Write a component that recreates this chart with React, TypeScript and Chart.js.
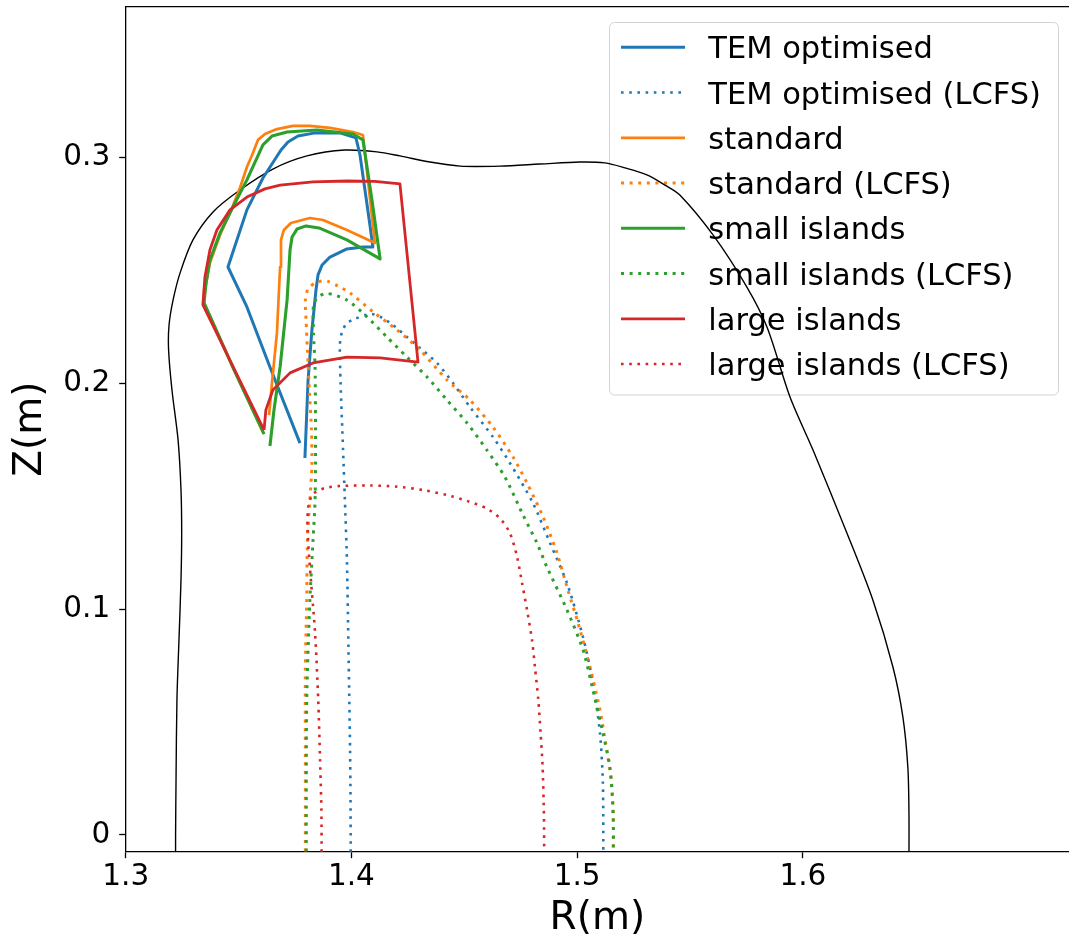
import React, { useEffect, useRef } from 'react';
import { Chart, registerables } from 'chart.js';

Chart.register(...registerables);

// ---------------- data (R in m, Z in m) ----------------
const X_TICKS = [1.3, 1.4, 1.5, 1.6];
const X_TICK_LABELS = ['1.3', '1.4', '1.5', '1.6'];
const Y_TICKS = [0, 0.1, 0.2, 0.3];
const Y_TICK_LABELS = ['0', '0.1', '0.2', '0.3'];

const X_MIN = 1.3;
const X_MAX = 1.7179;
const Y_MIN = -0.0074;
const Y_MAX = 0.3669;

const SERIES_NAMES = [
  'TEM optimised',
  'TEM optimised (LCFS)',
  'standard',
  'standard (LCFS)',
  'small islands',
  'small islands (LCFS)',
  'large islands',
  'large islands (LCFS)',
];

const BOUNDARY_R = [1.3221, 1.3221, 1.3223, 1.3227, 1.3236, 1.3245, 1.3248, 1.3245, 1.3232, 1.3205, 1.3190, 1.3192, 1.3210, 1.3241, 1.3298, 1.3387, 1.3506, 1.3652, 1.3803, 1.3971, 1.4113, 1.4215, 1.4348, 1.4481, 1.4658, 1.4835, 1.5012, 1.5123, 1.5212, 1.5309, 1.5389, 1.5455, 1.5602, 1.5752, 1.5841, 1.5943, 1.6045, 1.6195, 1.6310, 1.6399, 1.6443, 1.6465, 1.6470, 1.6470];
const BOUNDARY_Z = [-0.0111, 0, 0.0244, 0.0598, 0.0864, 0.1130, 0.1338, 0.1528, 0.1750, 0.1971, 0.2148, 0.2259, 0.2370, 0.2490, 0.2636, 0.2760, 0.2857, 0.2950, 0.3008, 0.3034, 0.3026, 0.3008, 0.2981, 0.2963, 0.2963, 0.2972, 0.2981, 0.2977, 0.2955, 0.2924, 0.2879, 0.2835, 0.2658, 0.2427, 0.2250, 0.1940, 0.1705, 0.1338, 0.1041, 0.0744, 0.0523, 0.0301, 0.0097, -0.0111];

const TEM_R = [1.3794, 1.3808, 1.3825, 1.3843, 1.3852, 1.3870, 1.3905, 1.3980, 1.4051, 1.4095, 1.4082, 1.4060, 1.4038, 1.4020, 1.3949, 1.3839, 1.3763, 1.3719, 1.3688, 1.3608, 1.3537, 1.3453, 1.3537, 1.3639, 1.3772];
const TEM_Z = [0.1670, 0.2016, 0.2237, 0.2414, 0.2481, 0.2525, 0.2560, 0.2596, 0.2605, 0.2605, 0.2702, 0.2857, 0.3012, 0.3088, 0.3110, 0.3110, 0.3096, 0.3070, 0.3034, 0.2910, 0.2769, 0.2516, 0.2339, 0.2073, 0.1736];

const TEM_LCFS_R = [1.3997, 1.3996, 1.3994, 1.3987, 1.3980, 1.3971, 1.3963, 1.3952, 1.3949, 1.3958, 1.3980, 1.4016, 1.4060, 1.4091, 1.4127, 1.4184, 1.4246, 1.4304, 1.4379, 1.4450, 1.4525, 1.4627, 1.4702, 1.4804, 1.4880, 1.4955, 1.5026, 1.5070, 1.5101, 1.5114, 1.5116];
const TEM_LCFS_Z = [-0.0111, 0.0155, 0.0377, 0.0820, 0.1218, 0.1484, 0.1705, 0.2002, 0.2171, 0.2228, 0.2268, 0.2286, 0.2303, 0.2308, 0.2296, 0.2259, 0.2206, 0.2157, 0.2091, 0.2002, 0.1896, 0.1763, 0.1648, 0.1471, 0.1293, 0.1116, 0.0877, 0.0673, 0.0452, 0.0230, -0.0111];

const STD_R = [1.3635, 1.3648, 1.3670, 1.3684, 1.3688, 1.3701, 1.3732, 1.3816, 1.3874, 1.3980, 1.4104, 1.4078, 1.4051, 1.4007, 1.3905, 1.3816, 1.3741, 1.3670, 1.3617, 1.3586, 1.3560, 1.3537, 1.3506, 1.3462, 1.3418, 1.3373, 1.3351, 1.3347, 1.3480, 1.3608];
const STD_Z = [0.1860, 0.2002, 0.2224, 0.2516, 0.2636, 0.2680, 0.2711, 0.2733, 0.2724, 0.2680, 0.2622, 0.2857, 0.3101, 0.3114, 0.3132, 0.3141, 0.3141, 0.3127, 0.3105, 0.3079, 0.3012, 0.2959, 0.2866, 0.2755, 0.2658, 0.2534, 0.2414, 0.2357, 0.2060, 0.1785];

const STD_LCFS_R = [1.3796, 1.3796, 1.3796, 1.3802, 1.3805, 1.3816, 1.3825, 1.3823, 1.3816, 1.3805, 1.3799, 1.3796, 1.3808, 1.3839, 1.3870, 1.3896, 1.3940, 1.3994, 1.4095, 1.4202, 1.4304, 1.4423, 1.4525, 1.4627, 1.4716, 1.4778, 1.4849, 1.4909, 1.4959, 1.5004, 1.5057, 1.5101, 1.5131, 1.5153, 1.5160, 1.5160];
const STD_LCFS_Z = [-0.0111, 0.0332, 0.0744, 0.1041, 0.1307, 0.1484, 0.1639, 0.1794, 0.1927, 0.2148, 0.2281, 0.2370, 0.2419, 0.2445, 0.2454, 0.2452, 0.2432, 0.2401, 0.2318, 0.2237, 0.2148, 0.2016, 0.1927, 0.1807, 0.1674, 0.1559, 0.1409, 0.1254, 0.1085, 0.0939, 0.0744, 0.0554, 0.0377, 0.0230, 0.0080, -0.0111];

const SMALL_R = [1.3639, 1.3657, 1.3684, 1.3715, 1.3728, 1.3737, 1.3759, 1.3799, 1.3856, 1.3980, 1.4127, 1.4091, 1.4051, 1.4007, 1.3847, 1.3715, 1.3648, 1.3608, 1.3537, 1.3475, 1.3418, 1.3373, 1.3356, 1.3347, 1.3480, 1.3613];
const SMALL_Z = [0.1723, 0.1883, 0.2073, 0.2370, 0.2591, 0.2649, 0.2684, 0.2698, 0.2689, 0.2636, 0.2552, 0.2813, 0.3079, 0.3105, 0.3123, 0.3114, 0.3096, 0.3057, 0.2902, 0.2782, 0.2667, 0.2547, 0.2445, 0.2357, 0.2060, 0.1776];

const SMALL_LCFS_R = [1.3800, 1.3800, 1.3802, 1.3816, 1.3830, 1.3839, 1.3841, 1.3839, 1.3832, 1.3832, 1.3852, 1.3892, 1.3980, 1.4069, 1.4157, 1.4246, 1.4335, 1.4423, 1.4512, 1.4600, 1.4680, 1.4760, 1.4822, 1.4866, 1.4955, 1.5026, 1.5070, 1.5114, 1.5145, 1.5160, 1.5160];
const SMALL_LCFS_Z = [-0.0111, 0.0111, 0.0598, 0.1041, 0.1307, 0.1484, 0.1705, 0.2073, 0.2224, 0.2348, 0.2383, 0.2399, 0.2370, 0.2295, 0.2206, 0.2117, 0.2029, 0.1927, 0.1825, 0.1705, 0.1586, 0.1418, 0.1293, 0.1187, 0.0997, 0.0820, 0.0642, 0.0452, 0.0301, 0.0080, -0.0111];

const LARGE_R = [1.3613, 1.3342, 1.3351, 1.3373, 1.3404, 1.3462, 1.3537, 1.3617, 1.3684, 1.3830, 1.3980, 1.4104, 1.4215, 1.4295, 1.4127, 1.3980, 1.3830, 1.3728, 1.3652, 1.3621, 1.3613];
const LARGE_Z = [0.1794, 0.2348, 0.2472, 0.2591, 0.2680, 0.2769, 0.2826, 0.2862, 0.2879, 0.2893, 0.2897, 0.2895, 0.2884, 0.2095, 0.2113, 0.2117, 0.2091, 0.2047, 0.1971, 0.1883, 0.1794];

const LARGE_LCFS_R = [1.3868, 1.3867, 1.3861, 1.3853, 1.3839, 1.3816, 1.3805, 1.3810, 1.3830, 1.3883, 1.3949, 1.4082, 1.4202, 1.4317, 1.4423, 1.4512, 1.4600, 1.4658, 1.4702, 1.4733, 1.4756, 1.4778, 1.4800, 1.4813, 1.4828, 1.4838, 1.4847, 1.4853, 1.4854];
const LARGE_LCFS_Z = [-0.0111, 0.0111, 0.0332, 0.0598, 0.0895, 0.1187, 0.1373, 0.1462, 0.1511, 0.1537, 0.1546, 0.1548, 0.1543, 0.1528, 0.1506, 0.1480, 0.1446, 0.1403, 0.1338, 0.1236, 0.1116, 0.0997, 0.0864, 0.0744, 0.0598, 0.0452, 0.0301, 0.0080, -0.0111];

// ---------------- styling ----------------
const BLUE = '#1f77b4';
const ORANGE = '#ff7f0e';
const GREEN = '#2ca02c';
const RED = '#d62728';
const FONT = "'DejaVu Sans', 'Liberation Sans', sans-serif";

const zip = (r: number[], z: number[]) => r.map((x, i) => ({ x, y: z[i] }));

const solid = (label: string, r: number[], z: number[], color: string, width: number, order: number) => ({
  label,
  data: zip(r, z),
  showLine: true,
  borderColor: color,
  backgroundColor: color,
  borderWidth: width,
  pointRadius: 0,
  tension: 0,
  borderJoinStyle: 'round',
  borderCapStyle: 'butt',
  clip: 0,
  order,
});

const dotted = (label: string, r: number[], z: number[], color: string, width: number, order: number) => ({
  label,
  data: zip(r, z),
  showLine: true,
  borderColor: color,
  backgroundColor: color,
  borderWidth: width,
  borderDash: [width, 5.6],
  borderCapStyle: 'butt',
  pointRadius: 0,
  tension: 0.25,
  clip: 0,
  order,
});

const insetLegend = {
  id: 'insetLegend',
  beforeDatasetsDraw(chart: any) {
    const { ctx, chartArea } = chart;
    const items = chart.data.datasets.filter((d: any) => d.label);
    const boxW = 449;
    const boxH = 372.5;
    const rowH = 45.25;
    const x0 = chartArea.right - 10.5 - boxW;
    const y0 = chartArea.top + 15.8;
    const rad = 5;
    ctx.save();
    ctx.beginPath();
    ctx.moveTo(x0 + rad, y0);
    ctx.lineTo(x0 + boxW - rad, y0);
    ctx.arcTo(x0 + boxW, y0, x0 + boxW, y0 + rad, rad);
    ctx.lineTo(x0 + boxW, y0 + boxH - rad);
    ctx.arcTo(x0 + boxW, y0 + boxH, x0 + boxW - rad, y0 + boxH, rad);
    ctx.lineTo(x0 + rad, y0 + boxH);
    ctx.arcTo(x0, y0 + boxH, x0, y0 + boxH - rad, rad);
    ctx.lineTo(x0, y0 + rad);
    ctx.arcTo(x0, y0, x0 + rad, y0, rad);
    ctx.closePath();
    ctx.fillStyle = '#ffffff';
    ctx.fill();
    ctx.lineWidth = 1;
    ctx.strokeStyle = '#d3d3d3';
    ctx.stroke();

    ctx.font = `30.5px ${FONT}`;
    ctx.textAlign = 'left';
    ctx.textBaseline = 'alphabetic';
    items.forEach((d: any, i: number) => {
      const base = y0 + 35.8 + rowH * i;
      const ly = base - 11;
      ctx.beginPath();
      ctx.setLineDash(d.borderDash || []);
      ctx.lineWidth = d.borderWidth;
      ctx.strokeStyle = d.borderColor;
      ctx.lineCap = 'butt';
      ctx.moveTo(x0 + 11.5, ly);
      ctx.lineTo(x0 + 75.5, ly);
      ctx.stroke();
      ctx.setLineDash([]);
      ctx.fillStyle = '#000000';
      ctx.fillText(d.label, x0 + 98.8, base);
    });
    ctx.restore();
  },
};

const topSpine = {
  id: 'topSpine',
  afterDatasetsDraw(chart: any) {
    const { ctx, chartArea } = chart;
    ctx.save();
    ctx.beginPath();
    ctx.strokeStyle = '#000000';
    ctx.lineWidth = 1.3;
    ctx.moveTo(chartArea.left, chartArea.top);
    ctx.lineTo(chartArea.right, chartArea.top);
    ctx.stroke();
    ctx.restore();
  },
};

export default function App() {
  const ref = useRef<HTMLCanvasElement | null>(null);

  useEffect(() => {
    const canvas = ref.current;
    if (!canvas) return;
    const n = SERIES_NAMES.length;
    const datasets: any[] = [
      solid(SERIES_NAMES[0], TEM_R, TEM_Z, BLUE, 3, n - 0),
      dotted(SERIES_NAMES[1], TEM_LCFS_R, TEM_LCFS_Z, BLUE, 2.6, n - 1),
      solid(SERIES_NAMES[2], STD_R, STD_Z, ORANGE, 2.7, n - 2),
      dotted(SERIES_NAMES[3], STD_LCFS_R, STD_LCFS_Z, ORANGE, 3, n - 3),
      solid(SERIES_NAMES[4], SMALL_R, SMALL_Z, GREEN, 3.1, n - 4),
      dotted(SERIES_NAMES[5], SMALL_LCFS_R, SMALL_LCFS_Z, GREEN, 3, n - 5),
      solid(SERIES_NAMES[6], LARGE_R, LARGE_Z, RED, 2.8, n - 6),
      dotted(SERIES_NAMES[7], LARGE_LCFS_R, LARGE_LCFS_Z, RED, 2.6, n - 7),
      {
        label: '',
        data: zip(BOUNDARY_R, BOUNDARY_Z),
        showLine: true,
        borderColor: '#000000',
        borderWidth: 1.4,
        pointRadius: 0,
        tension: 0.3,
        clip: 0,
        order: 100,
      },
    ];

    const chart = new Chart(canvas, {
      type: 'scatter',
      data: { datasets },
      plugins: [insetLegend, topSpine],
      options: {
        animation: false,
        responsive: false,
        devicePixelRatio: 1,
        events: [],
        layout: { padding: { top: 6.7, left: 0, right: 0, bottom: 0 } },
        plugins: {
          legend: { display: false },
          tooltip: { enabled: false },
        },
        scales: {
          x: {
            type: 'linear',
            min: X_MIN,
            max: X_MAX,
            afterBuildTicks: (scale: any) => {
              scale.ticks = X_TICKS.map((v) => ({ value: v }));
            },
            afterFit: (scale: any) => {
              scale.height = 88.3;
              scale.paddingLeft = 0;
              scale.paddingRight = 0;
            },
            ticks: {
              autoSkip: false,
              maxRotation: 0,
              padding: 1,
              color: '#000000',
              font: { family: FONT, size: 29.5 },
              callback: (_v: any, i: number) => X_TICK_LABELS[i],
            },
            grid: {
              drawOnChartArea: false,
              drawTicks: true,
              tickLength: 6.5,
              tickWidth: 1.3,
              tickColor: '#000000',
              color: '#000000',
            },
            border: { display: true, color: '#000000', width: 1.3 },
            title: {
              display: true,
              text: 'R(m)',
              color: '#000000',
              font: { family: FONT, size: 39, lineHeight: 1.1 },
              padding: { top: 0, bottom: 0 },
            },
          },
          y: {
            type: 'linear',
            min: Y_MIN,
            max: Y_MAX,
            afterBuildTicks: (scale: any) => {
              scale.ticks = Y_TICKS.map((v) => ({ value: v }));
            },
            afterFit: (scale: any) => {
              scale.width = 125.7;
              scale.paddingTop = 0;
              scale.paddingBottom = 0;
            },
            ticks: {
              autoSkip: false,
              padding: 9,
              color: '#000000',
              font: { family: FONT, size: 29.5 },
              callback: (_v: any, i: number) => Y_TICK_LABELS[i],
            },
            grid: {
              drawOnChartArea: false,
              drawTicks: true,
              tickLength: 6.5,
              tickWidth: 1.3,
              tickColor: '#000000',
              color: '#000000',
            },
            border: { display: true, color: '#000000', width: 1.3 },
            title: {
              display: true,
              text: 'Z(m)',
              color: '#000000',
              font: { family: FONT, size: 39, lineHeight: 1.1 },
              padding: { top: 9.5, bottom: 0 },
            },
          },
        },
      } as any,
    });

    return () => chart.destroy();
  }, []);

  return (
    <div style={{ position: 'absolute', left: 0, top: 0, width: 1069, height: 940, background: '#ffffff' }}>
      <canvas ref={ref} width={1069} height={940} style={{ display: 'block', width: 1069, height: 940 }} />
    </div>
  );
}
